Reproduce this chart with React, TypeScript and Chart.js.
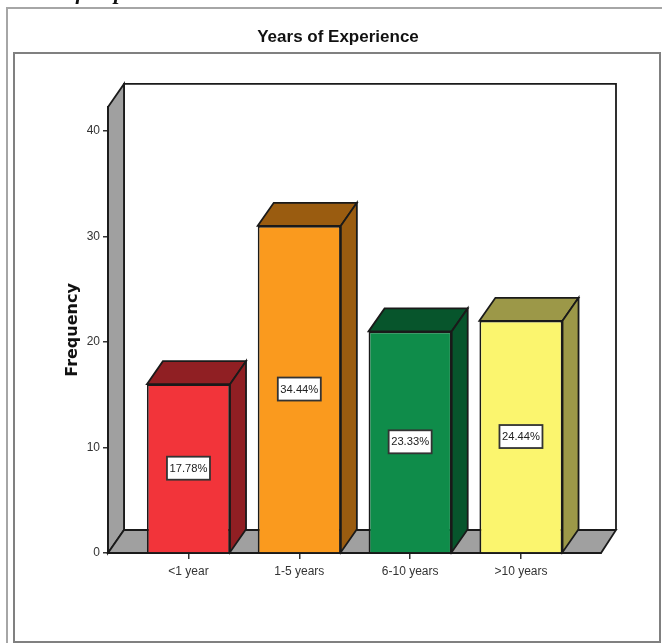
import React, { useEffect, useRef } from "react";
import { Chart, registerables } from "chart.js";

Chart.register(...registerables);

// Survey counts per experience band
const categories = ["<1 year", "1-5 years", "6-10 years", ">10 years"];
const frequencies = [16, 31, 21, 22];
const shareLabels = ["17.78%", "34.44%", "23.33%", "24.44%"];
const frontColors = ["#F2343A", "#FA9A1E", "#0F8C4A", "#FBF56E"];
const shadeColors = ["#901F23", "#9A5C10", "#07552C", "#9C9848"];

// Oblique projection used for the box faces and the walls
const DEPTH_X = 16;
const DEPTH_Y = -23;
const SANS = '"Liberation Sans", Arial, sans-serif';
const WALL_GREY = "#A0A0A0";
const EDGE = "#1A1A1A";
const EDGE_WIDTH = 1.8;

function polygon(ctx: CanvasRenderingContext2D, pts: number[][], fill: string) {
  ctx.beginPath();
  pts.forEach(([x, y], i) => (i ? ctx.lineTo(x, y) : ctx.moveTo(x, y)));
  ctx.closePath();
  ctx.fillStyle = fill;
  ctx.fill();
  ctx.lineWidth = EDGE_WIDTH;
  ctx.strokeStyle = EDGE;
  ctx.stroke();
}

// Page background, caption remnant, panel frames and the chart's box walls
const backdrop = {
  id: "backdrop",
  beforeDraw(chart: any) {
    const { ctx, width, height, chartArea: a } = chart;
    ctx.save();
    ctx.fillStyle = "#FFFFFF";
    ctx.fillRect(0, 0, width, height);

    ctx.fillStyle = "#111";
    ctx.font = 'italic bold 22px "Liberation Serif", serif';
    ctx.textAlign = "left";
    ctx.textBaseline = "alphabetic";
    ctx.fillText("Years of Experience", 10, -1);

    ctx.strokeStyle = "#A6A6A6";
    ctx.lineWidth = 2;
    ctx.beginPath();
    ctx.moveTo(7, height);
    ctx.lineTo(7, 8);
    ctx.lineTo(width, 8);
    ctx.stroke();
    ctx.strokeStyle = "#808080";
    ctx.strokeRect(14, 53, width - 16, height - 54);

    const backLeft = a.left + DEPTH_X;
    const backRight = a.right + DEPTH_X - 1;
    const backTop = a.top + DEPTH_Y;
    const backBottom = a.bottom + DEPTH_Y;
    ctx.fillStyle = "#FFFFFF";
    ctx.fillRect(backLeft, backTop, backRight - backLeft, backBottom - backTop);
    ctx.strokeStyle = EDGE;
    ctx.lineWidth = EDGE_WIDTH;
    ctx.beginPath();
    ctx.moveTo(backLeft, backBottom);
    ctx.lineTo(backLeft, backTop);
    ctx.lineTo(backRight, backTop);
    ctx.lineTo(backRight, backBottom);
    ctx.stroke();
    polygon(ctx, [[a.left, a.top], [backLeft, backTop], [backLeft, backBottom], [a.left, a.bottom]], WALL_GREY);
    polygon(ctx, [[a.left, a.bottom], [backLeft, backBottom], [backRight, backBottom], [a.right, a.bottom]], WALL_GREY);
    ctx.restore();
  },
};

// Top and side faces extruded from each bar element
const boxFaces = {
  id: "boxFaces",
  beforeDatasetsDraw(chart: any) {
    const { ctx } = chart;
    ctx.save();
    chart.getDatasetMeta(0).data.forEach((bar: any, i: number) => {
      const l = bar.x - bar.width / 2;
      const r = bar.x + bar.width / 2;
      const shade = shadeColors[i];
      polygon(ctx, [[l, bar.y], [l + DEPTH_X, bar.y + DEPTH_Y], [r + DEPTH_X, bar.y + DEPTH_Y], [r, bar.y]], shade);
      polygon(ctx, [[r, bar.y], [r + DEPTH_X, bar.y + DEPTH_Y], [r + DEPTH_X, bar.base + DEPTH_Y], [r, bar.base]], shade);
    });
    ctx.restore();
  },
};

// Percentage tags at the middle of each bar
const shareTags = {
  id: "shareTags",
  afterDatasetsDraw(chart: any) {
    const { ctx } = chart;
    ctx.save();
    chart.getDatasetMeta(0).data.forEach((bar: any, i: number) => {
      const cy = (bar.y + bar.base) / 2;
      ctx.fillStyle = "#FFFFFF";
      ctx.fillRect(bar.x - 21.5, cy - 11.5, 43, 23);
      ctx.strokeStyle = "#333";
      ctx.lineWidth = EDGE_WIDTH;
      ctx.strokeRect(bar.x - 21.5, cy - 11.5, 43, 23);
      ctx.fillStyle = "#222";
      ctx.font = `11.2px ${SANS}`;
      ctx.textAlign = "center";
      ctx.textBaseline = "middle";
      ctx.fillText(shareLabels[i], bar.x, cy + 0.5);
    });
    ctx.restore();
  },
};

export default function App() {
  const ref = useRef<HTMLCanvasElement>(null);

  useEffect(() => {
    const chart = new Chart(ref.current!, {
      type: "bar",
      data: {
        labels: categories,
        datasets: [
          {
            label: "Frequency",
            data: frequencies.map((y, x) => ({ x, y })),
            backgroundColor: frontColors,
            borderColor: EDGE,
            borderWidth: EDGE_WIDTH,
            categoryPercentage: 1,
            barPercentage: 0.75,
            xAxisID: "x",
            yAxisID: "y",
          },
        ],
      },
      options: {
        responsive: false,
        animation: false,
        layout: { padding: { left: 14, right: 0, top: 0, bottom: 0 } },
        plugins: {
          legend: { display: false },
          tooltip: { enabled: false },
          title: {
            display: true,
            text: "Years of Experience",
            color: "#111",
            font: { family: SANS, size: 17, weight: "bold" },
            padding: { top: 27.5, bottom: 59 },
          },
        },
        scales: {
          x: {
            type: "linear",
            position: "bottom",
            offset: false,
            min: -0.726,
            max: 3.722,
            afterBuildTicks(scale: any) {
              scale.ticks = categories.map((_, value) => ({ value }));
            },
            afterFit(scale: any) {
              scale.height = 90;
            },
            grid: { offset: false, drawOnChartArea: false, drawTicks: true, tickLength: 6, color: "#333", lineWidth: 1.5 },
            border: { display: true, color: EDGE, width: EDGE_WIDTH },
            ticks: {
              autoSkip: false,
              maxRotation: 0,
              padding: 5,
              color: "#333",
              font: { family: SANS, size: 12 },
              callback: (value: any) => categories[value],
            },
          },
          y: {
            type: "linear",
            position: "left",
            min: 0,
            max: 42.27,
            afterFit(scale: any) {
              scale.width = 94;
            },
            grid: { drawOnChartArea: false, drawTicks: true, tickLength: 5, color: "#333", lineWidth: 1.5 },
            border: { display: true, color: EDGE, width: EDGE_WIDTH },
            ticks: { stepSize: 10, includeBounds: false, padding: 3, color: "#333", font: { family: SANS, size: 12 } },
            title: {
              display: true,
              text: "Frequency",
              color: "#111",
              font: { family: '"DejaVu Sans", sans-serif', size: 16, weight: "bold" },
              padding: { top: 49, bottom: 0 },
            },
          },
          // Empty gutter that keeps the plot clear of the frame's right side
          gutter: {
            type: "linear",
            position: "right",
            afterFit(scale: any) {
              scale.width = 61;
            },
            grid: { display: false },
            border: { display: false },
            ticks: { display: false },
          },
        },
      } as any,
      plugins: [backdrop, boxFaces, shareTags],
    });
    return () => chart.destroy();
  }, []);

  return (
    <div style={{ position: "absolute", left: 0, top: 0, width: 662, height: 643 }}>
      <canvas ref={ref} width={662} height={643} style={{ display: "block" }} />
    </div>
  );
}
